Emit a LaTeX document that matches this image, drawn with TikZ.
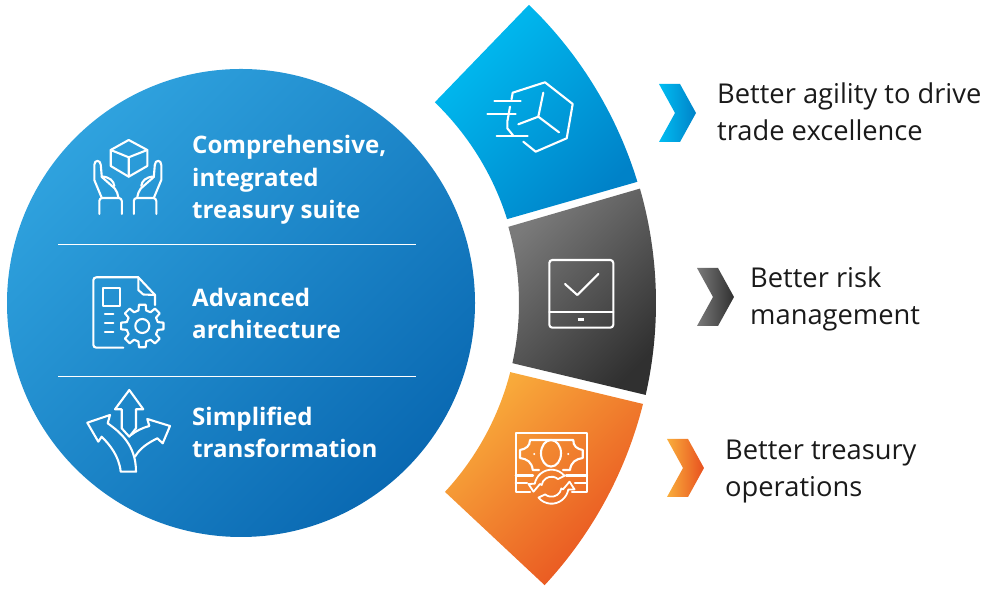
\documentclass[tikz,border=0pt]{standalone}
\usepackage{fontspec}
\setmainfont{Open Sans}
\definecolor{bluea}{HTML}{2FA2DE}
\definecolor{blueb}{HTML}{0A69B2}
\definecolor{cyana}{HTML}{00BDF2}
\definecolor{cyanb}{HTML}{0082C8}
\definecolor{graya}{HTML}{7A7A7A}
\definecolor{grayb}{HTML}{303030}
\definecolor{orangea}{HTML}{F9AE3C}
\definecolor{orangeb}{HTML}{E8501F}
\definecolor{inktext}{HTML}{1A1A1A}
\tikzset{
  icon/.style={draw=white,line width=2.1pt,line join=round,line cap=round},
  fillcyan/.style={left color=cyana,right color=cyanb,shading angle=45},
  fillgray/.style={left color=graya,right color=grayb,shading angle=45},
  fillorange/.style={left color=orangea,right color=orangeb,shading angle=45},
  lefttext/.style={anchor=base west,align=left,inner sep=0pt,text=white,font=\fontsize{24.1}{32.5}\selectfont\bfseries},
  righttext/.style={anchor=base west,align=left,inner sep=0pt,text=inktext,font=\fontsize{27.3}{37}\selectfont},
  chevron/.pic={
    \shade[pic actions] (0,29) -- (21,29) -- (37,0) -- (21,-29) -- (0,-29) -- (16,0) -- cycle;
  }
}
\begin{document}
\begin{tikzpicture}[x=1pt,y=1pt]
  \useasboundingbox (0,0) rectangle (990,593);
  \node[circle,inner sep=0pt,minimum size=468pt,left color=bluea,right color=blueb,shading angle=45] (disc) at (241,290) {};
  \draw[white,line width=1pt] (58,348) -- (416,348);
  \draw[white,line width=1pt] (58,216) -- (416,216);
  % three arcs round the disc
  \begin{scope}[shift={(241,290)}]
    \shade[fillcyan] (46:279) arc[start angle=46,end angle=17.5,radius=279] -- (17:414.5) arc[start angle=17,end angle=46,radius=414.5] -- cycle;
    \shade[fillgray] (15.9:278) arc[start angle=15.9,end angle=-12.5,radius=278] -- (-12.8:415) arc[start angle=-12.8,end angle=16,radius=415] -- cycle;
    \shade[fillorange] (-14.4:278) arc[start angle=-14.4,end angle=-42.8,radius=278] -- (-42.9:414.5) arc[start angle=-42.9,end angle=-14.1,radius=414.5] -- cycle;
  \end{scope}
  % chevrons
  \pic[left color=cyana,right color=cyanb] at (659,480) {chevron};
  \pic[left color=graya,right color=grayb] at (697,296) {chevron};
  \pic[left color=orangea,right color=orangeb] at (667,125) {chevron};
  % texts
  \node[lefttext] (suite) at (192,374) {Comprehensive,\\integrated\\treasury suite};
  \node[lefttext] (arch) at (192,254) {Advanced\\architecture};
  \node[lefttext] (simple) at (192,135) {Simplified\\transformation};
  \node[righttext] (agility) at (717,452) {Better agility to drive\\trade excellence};
  \node[righttext] (risk) at (750,268) {Better risk\\management};
  \node[righttext] (ops) at (725,96) {Better treasury\\operations};
  % icons, typed from the top left corner
  \begin{scope}[shift={(0,593)},y=-1pt]
    % box and hands
    \draw[icon] (128.7,140) -- (147.3,150) -- (147.3,166) -- (128.7,176.7) -- (110.7,166) -- (110.7,150) -- cycle;
    \draw[icon] (110.7,150) -- (128.7,157.3) -- (147.3,150) (128.7,157.3) -- (128.7,176.7);
    \foreach \s in {1,-1} {
      \begin{scope}[shift={(127.8,0)},xscale=\s]
        \draw[icon,rounded corners=3pt] (-28.5,214) -- (-28.5,198) -- (-6,198) -- (-6,214);
        \draw[icon] (-26,198) -- (-33.5,180) -- (-33.5,165) .. controls (-33.5,159.5) and (-27.3,159.5) .. (-27,165) -- (-26,177) -- (-13,188.5) .. controls (-11,191) and (-10,194) .. (-9.5,197);
        \draw[icon] (-26,176.5) .. controls (-18,177) and (-14,181) .. (-13.5,186);
      \end{scope}
    }
    % document and gear
    \draw[icon,rounded corners=3pt] (123.3,347.7) -- (93.3,347.7) -- (93.3,277.3) -- (138.3,277.3);
    \draw[icon] (138.3,277.3) -- (155,295) -- (155,305);
    \draw[icon] (138.3,277.3) -- (138.3,290) -- (143.3,294.5) -- (155,295);
    \draw[icon] (103.3,288.3) rectangle (120,305.7);
    \foreach \y in {314,322.7,331.7}
      \draw[icon] (105,\y) -- (113.3,\y);
    \begin{scope}[shift={(142.3,326)}]
      \draw[icon] (0,0) circle[radius=7];
      \draw[icon] (-9:21.5) \foreach \a in {0,45,...,315} { -- (\a-9:21.5) -- (\a+9:21.5) -- (\a+14:16) -- (\a+31:16) } -- cycle;
    \end{scope}
    % three arrows
    \draw[icon] (129.3,436.7) -- (121.7,428.3) -- (121.7,409.3) -- (115,409.3) -- (129.3,390) -- (143.3,409.3) -- (136,409.3) -- (136,428.3) -- cycle;
    \draw[icon] (120.7,471.7) .. controls (119,456) and (110,445) .. (101.7,436.7) -- (98.3,441.7) -- (87.3,422.7) -- (110,415) -- (107.7,423.3) .. controls (120,432) and (136,445) .. (136,471.7) -- cycle;
    \draw[icon] (135,456.7) .. controls (140,448) and (148,443) .. (157.3,438.3) -- (162.7,443.3) -- (170,426) -- (147.3,419) -- (149.3,426) .. controls (142,428) and (136,431) .. (131,435);
    % hexagon with speed lines
    \draw[icon] (510,106.7) -- (507.3,121.7) -- (507.3,128.3) -- (513.3,135.7);
    \draw[icon] (511.5,99.3) -- (512.7,92.7) -- (545,82.3) -- (572.7,104) -- (566.7,138.3) -- (535.7,151.7) -- (523.3,141.7);
    \draw[icon] (494.3,100.7) -- (520.7,100.7) (487.3,114.3) -- (515.7,114.3) (496.7,136) -- (527.7,136);
    \draw[icon] (543.3,92.7) -- (538.3,116.7) -- (518.3,124.3) (538.3,116.7) -- (559,132.3);
    % tablet with tick
    \draw[icon,rounded corners=3pt] (549.3,260) rectangle (613.3,327.7);
    \draw[icon] (549.3,311.7) -- (613.3,311.7);
    \draw[icon] (565,284) -- (577.3,295) -- (598.3,274);
    \draw[icon,line width=2.6pt,line cap=butt] (577.7,319.3) -- (584.3,319.3);
    % banknote
    \draw[icon] (530,491.7) -- (515.7,491.7) -- (515.7,432.7) -- (587,432.7) -- (587,491.7) -- (572,491.7);
    \draw[icon] (515.7,475.5) -- (533,475.5) (515.7,483.3) -- (527,483.3) (566,475.5) -- (587,475.5) (575,483.3) -- (587,483.3);
    \draw[icon] (539,470) -- (532.7,470) .. controls (532,462) and (527,459) .. (520,458) -- (520,450) .. controls (526,449) and (530,446) .. (530,440) -- (573.3,440) .. controls (573,446) and (577,449) .. (582.7,450) -- (582.7,458) .. controls (576,459) and (571,462) .. (570,470) -- (563,470);
    \draw[icon] (551,453.3) ellipse[x radius=10,y radius=13.3];
    \fill[white] (534.3,454) circle[radius=1.1] (568.3,454) circle[radius=1.1];
  \end{scope}
  \foreach \r in {0,180} {
    \begin{scope}[shift={(551.5,106.3)},rotate=\r]
      \draw[icon,line width=1.8pt] (40:17) arc[start angle=40,end angle=170,radius=17] -- (-23,2.7) -- (-18,-5) -- (-11.5,2.7) -- (170:10) arc[start angle=170,end angle=50,radius=10] -- cycle;
    \end{scope}
  }
\end{tikzpicture}
\end{document}
